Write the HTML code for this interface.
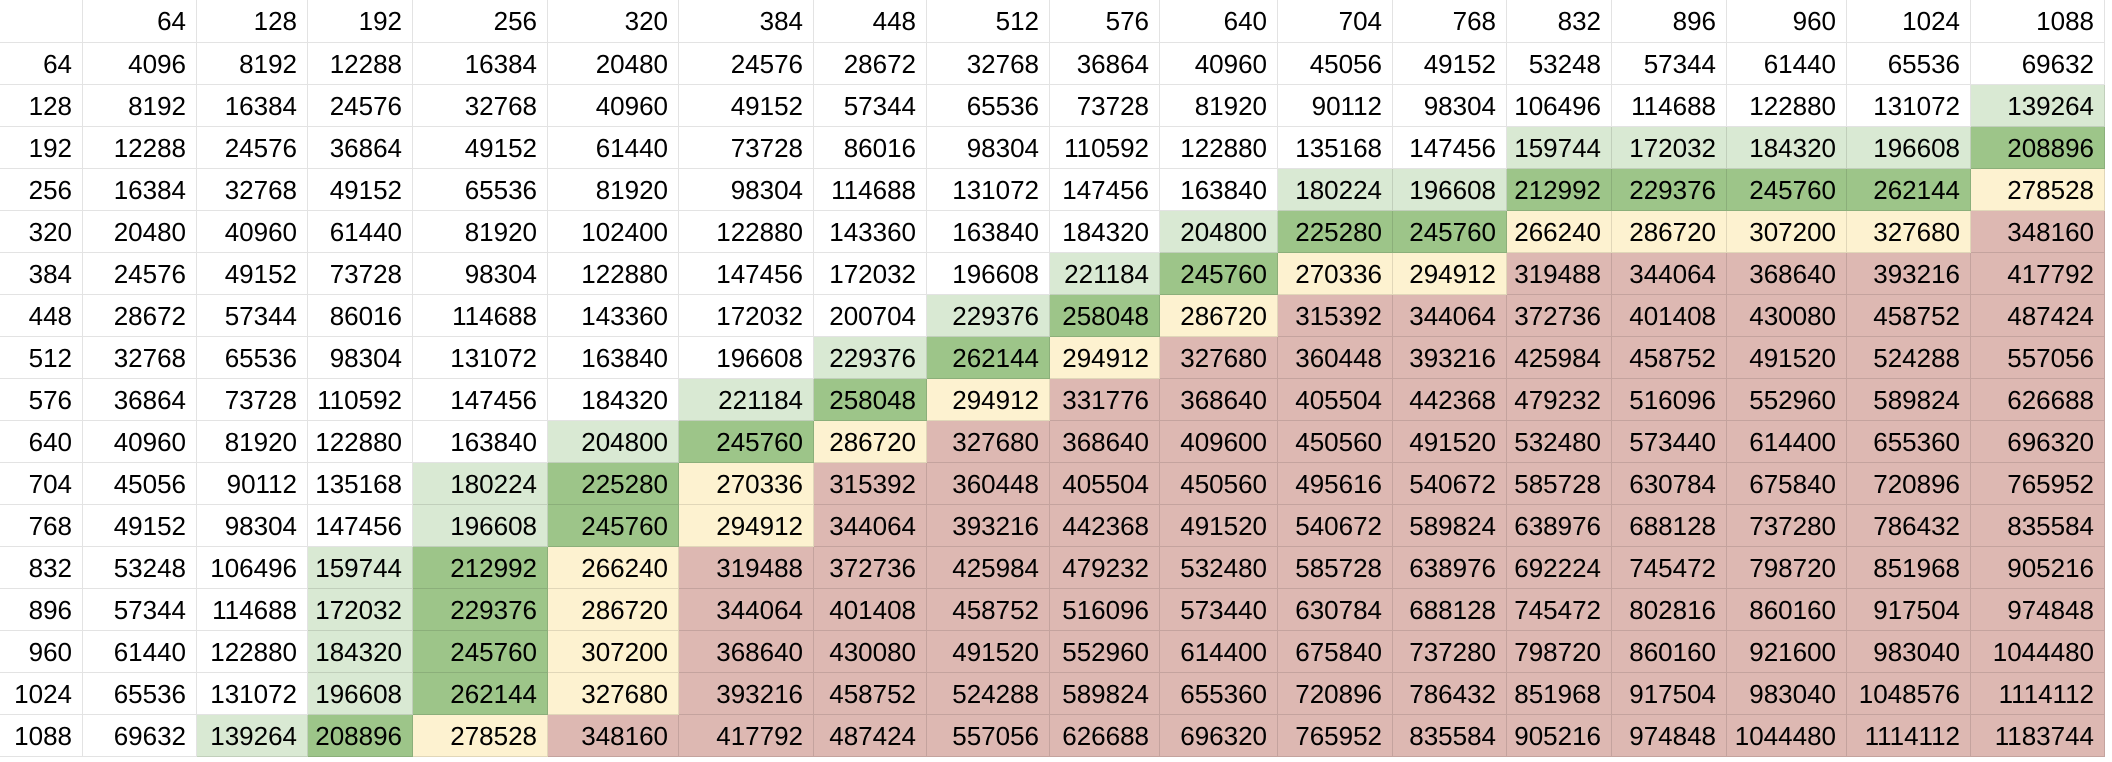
<!DOCTYPE html>
<html>
<head>
<meta charset="utf-8">
<style>
html,body{margin:0;padding:0;background:#fff;}
#grid{position:relative;width:2112px;height:762px;overflow:hidden;font-family:"Liberation Sans",Arial,sans-serif;font-size:26px;color:#000;}
.cell{position:absolute;box-sizing:border-box;border-right:1px solid rgba(0,0,0,0.11);border-bottom:1px solid rgba(0,0,0,0.11);text-align:right;padding-right:10px;display:flex;align-items:center;justify-content:flex-end;line-height:1;}
.W{background:#fff;}
.L{background:#d9e9d3;}
.G{background:#9dc589;}
.Y{background:#fdf2d0;}
.R{background:#ddb8b2;}
</style>
</head>
<body>
<div id="grid"></div>
<script>
const colLabels = [64,128,192,256,320,384,448,512,576,640,704,768,832,896,960,1024,1088];
const rowLabels = [64,128,192,256,320,384,448,512,576,640,704,768,832,896,960,1024,1088];
const rowColors = [
 "WWWWWWWWWWWWWWWWW",
 "WWWWWWWWWWWWWWWWL",
 "WWWWWWWWWWWWLLLLG",
 "WWWWWWWWWWLLGGGGY",
 "WWWWWWWWWLGGYYYYR",
 "WWWWWWWWLGYYRRRRR",
 "WWWWWWWLGYRRRRRRR",
 "WWWWWWLGYRRRRRRRR",
 "WWWWWLGYRRRRRRRRR",
 "WWWWLGYRRRRRRRRRR",
 "WWWLGYRRRRRRRRRRR",
 "WWWLGYRRRRRRRRRRR",
 "WWLGYRRRRRRRRRRRR",
 "WWLGYRRRRRRRRRRRR",
 "WWLGYRRRRRRRRRRRR",
 "WWLGYRRRRRRRRRRRR",
 "WLGYRRRRRRRRRRRRR"
];
const xb=[0,83,197,308,413,548,679,814,927,1050,1160,1278,1393,1507,1612,1727,1847,1971,2105];
const g=document.getElementById('grid');
function cell(x,y,w,h,txt,cls){
  const d=document.createElement('div');
  d.className='cell '+cls;
  d.style.left=x+'px';d.style.top=y+'px';d.style.width=w+'px';d.style.height=h+'px';
  d.textContent=txt;
  g.appendChild(d);
  return d;
}
const c0=cell(0,0,83,43,'','W');


colLabels.forEach((c,j)=>{
  const d=cell(xb[j+1],0,xb[j+2]-xb[j+1],43,String(c),'W');
  
  
});
rowLabels.forEach((r,i)=>{
  const y=43+42*i;
  const h=cell(0,y,83,42,String(r),'W');
  
  
  colLabels.forEach((c,j)=>{
    const d=cell(xb[j+1],y,xb[j+2]-xb[j+1],42,String(r*c),rowColors[i][j]);
    
    
  });
});
</script>
</body>
</html>
